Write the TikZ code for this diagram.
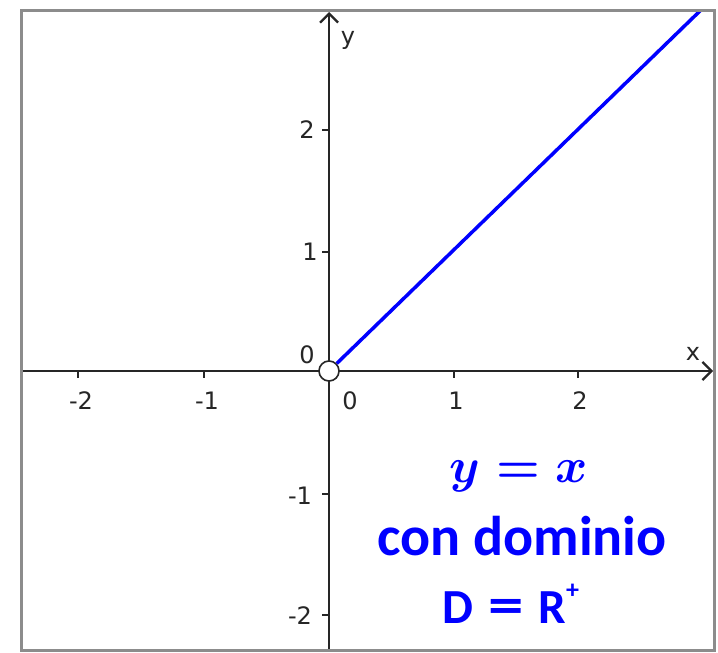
\documentclass[tikz,border=0pt]{standalone}
\usepackage[no-math]{fontspec}
\setmainfont{DejaVu Sans}
\newfontfamily\carlito{Carlito}
\usetikzlibrary{arrows.meta}
\tikzset{
  frame/.style={draw=black!45, line width=3pt},
  axisline/.style={line width=2.3pt, black!85, -{Straight Barb[length=9pt,width=18pt,line width=2.3pt]}},
  tickmark/.style={line width=2.3pt, black!85},
  lbl/.style={font={\fontsize{24}{28}\selectfont}, text=black!85, inner sep=0pt},
  func/.style={blue, line width=3.5pt},
  bluetxt/.style={text=blue, inner sep=0pt, anchor=base},
  hole/.style={circle, draw=black!85, fill=white, line width=1.6pt, minimum size=20pt, inner sep=0pt},
  eqfont/.style={font={\boldmath}},
  domfont/.style={font={\carlito\bfseries\fontsize{56}{64}\selectfont}},
  dfont/.style={font={\carlito\bfseries\fontsize{49}{56}\selectfont}},
}
\begin{document}
\begin{tikzpicture}[x=1pt,y=-1pt]
\useasboundingbox (0,0) rectangle (718,653);
\fill[white] (0,0) rectangle (718,653);
\begin{scope}
\clip (21,10) rectangle (714,650);
\coordinate (xs) at (21,371);
\coordinate (xe) at (713,371);
\coordinate (ys) at (329,652);
\coordinate (ye) at (329,12);
\draw[axisline] (xs) -- (xe);
\draw[axisline] (ys) -- (ye);
\foreach \t in {78,204,454,578} \draw[tickmark] (\t,371) -- (\t,378);
\foreach \t in {130,252,494,615} \draw[tickmark] (322,\t) -- (329,\t);
\node[hole] (O) at (329,371) {};
\coordinate (P) at (703,8);
\draw[func] (O) -- (P);
\end{scope}
\draw[frame] (21,10) rectangle (714,650);
\node[lbl] (lxm2) at (81,401) {-2};
\node[lbl] (lxm1) at (207,401) {-1};
\node[lbl] (lx1) at (456,401) {1};
\node[lbl] (lx2) at (580,401) {2};
\node[lbl] (lx0) at (350,401) {0};
\node[lbl] (ly0) at (307,355) {0};
\node[lbl] (ly2) at (307,130) {2};
\node[lbl] (ly1) at (310,252) {1};
\node[lbl] (lym1) at (300,496) {-1};
\node[lbl] (lym2) at (300,616) {-2};
\node[lbl] (lx) at (693,354) {x};
\node[lbl] (ly) at (348,40) {y};
\node[bluetxt, eqfont] (eq) at (519,482) {\scalebox{4.9}{$y=x$}};
\node[bluetxt, domfont] (dom) at (522,555) {con dominio};
\node[bluetxt, dfont] (dd) at (511,623) {D\hspace{0.3em}\scalebox{1.45}[1.1]{=}\hspace{0.3em}R\raisebox{0.5em}{\fontsize{26}{30}\selectfont+}};
\end{tikzpicture}
\end{document}
